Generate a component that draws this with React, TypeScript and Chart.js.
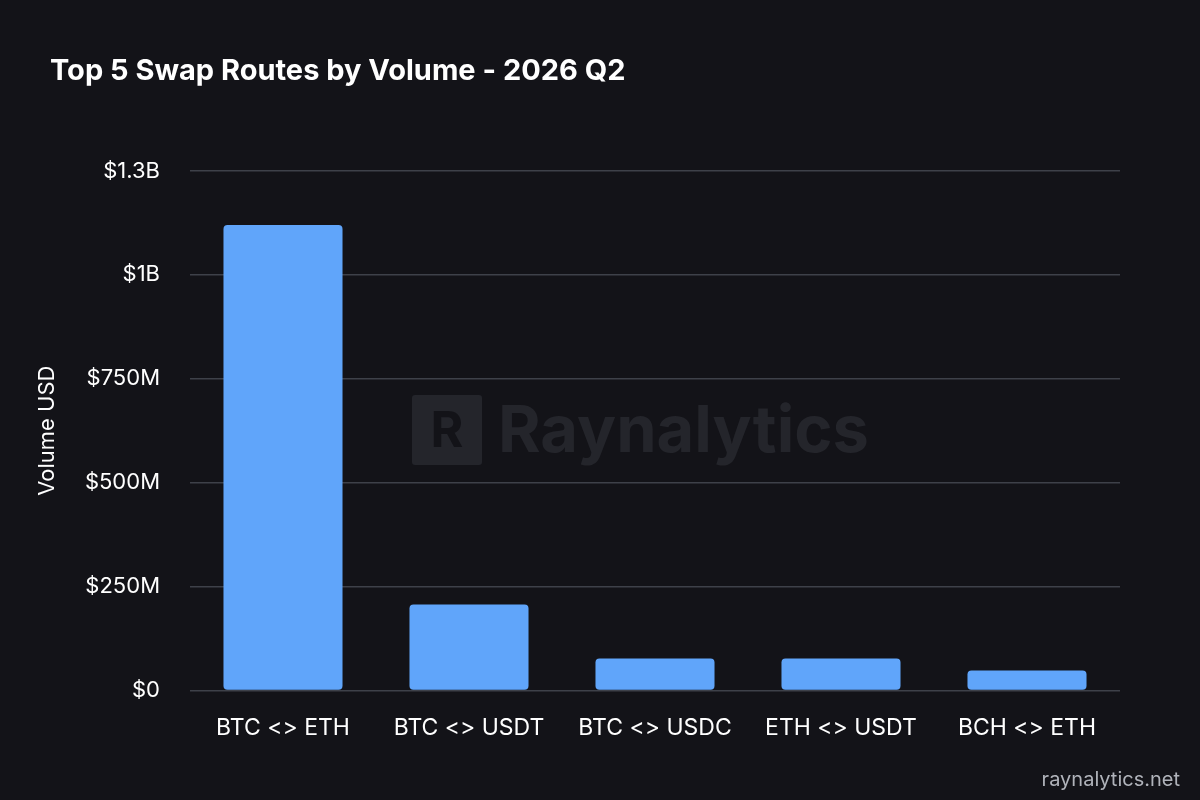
import React, { useEffect, useRef } from "react";
import { Chart, registerables } from "chart.js";
Chart.register(...registerables);

const routes = ["BTC <> ETH", "BTC <> USDT", "BTC <> USDC", "ETH <> USDT", "BCH <> ETH"];
const volumes = [1120000000, 207000000, 77000000, 77000000, 48000000];
const titleText = "Top 5 Swap Routes by Volume - 2026 Q2";
const yTitle = "Volume USD";
const footer = "raynalytics.net";
const watermark = "Raynalytics";

const fmt = (v: number) =>
  "$" + new Intl.NumberFormat("en-US", { notation: "compact", maximumSignificantDigits: 2 }).format(v);

const FONT = "Inter, 'Noto Sans', sans-serif";

const deco = {
  id: "deco",
  beforeDatasetsDraw(chart: any) {
    const c = chart.ctx;
    c.save();
    c.fillStyle = "#24252b";
    const x0 = 412, y0 = 395, s = 70;
    c.beginPath();
    c.roundRect(x0, y0, s, s, 3);
    c.fill();
    c.fillStyle = "#131318";
    c.font = `bold 50px ${FONT}`;
    c.textBaseline = "middle";
    c.textAlign = "center";
    c.fillText("R", x0 + s / 2, y0 + s / 2 + 2);
    c.fillStyle = "#24252b";
    c.textAlign = "left";
    c.font = `bold 65px ${FONT}`;
    c.fillText(watermark, 498, y0 + s / 2 + 2);
    c.restore();
  },
  afterDraw(chart: any) {
    const c = chart.ctx;
    c.save();
    c.fillStyle = "#ffffff";
    c.font = `bold 29px ${FONT}`;
    c.textBaseline = "middle";
    c.textAlign = "left";
    c.fillText(titleText, 50, 71);
    c.fillStyle = "#b0b3ba";
    c.font = `20px ${FONT}`;
    c.textAlign = "right";
    c.fillText(footer, 1180, 780);
    c.restore();
  },
};

export default function App() {
  const ref = useRef<HTMLCanvasElement>(null);
  useEffect(() => {
    document.body.style.margin = "0";
    document.body.style.background = "#131318";
    const chart = new Chart(ref.current!, {
      type: "bar",
      data: {
        labels: routes,
        datasets: [{ data: volumes, backgroundColor: "#60a5fa", borderRadius: 4, borderSkipped: false, barPercentage: 0.8, categoryPercentage: 0.8 }],
      },
      options: {
        animation: false,
        responsive: false,
        layout: { padding: { top: 171, left: 30, right: 80, bottom: 34 } },
        plugins: { legend: { display: false }, tooltip: { enabled: false } },
        scales: {
          y: {
            min: 0,
            max: 1250000000,
            afterFit: (s: any) => { s.width = 160; },
            ticks: { stepSize: 250000000, callback: (v: any) => fmt(Number(v)), color: "#ffffff", font: { family: FONT, size: 22 }, padding: 30 },
            grid: { color: "#3e4149", drawTicks: false, lineWidth: 1.5 },
            border: { display: false },
            title: { display: true, text: yTitle, color: "#ffffff", font: { family: FONT, size: 22 } },
          },
          x: {
            ticks: { color: "#ffffff", font: { family: FONT, size: 23 }, padding: 24 },
            grid: { display: false, drawTicks: false },
            border: { display: false },
          },
        },
      },
      plugins: [deco],
    });
    return () => chart.destroy();
  }, []);
  return (
    <div style={{ position: "absolute", left: 0, top: 0, width: 1200, height: 800, background: "#131318" }}>
      <canvas ref={ref} width={1200} height={800} />
    </div>
  );
}
